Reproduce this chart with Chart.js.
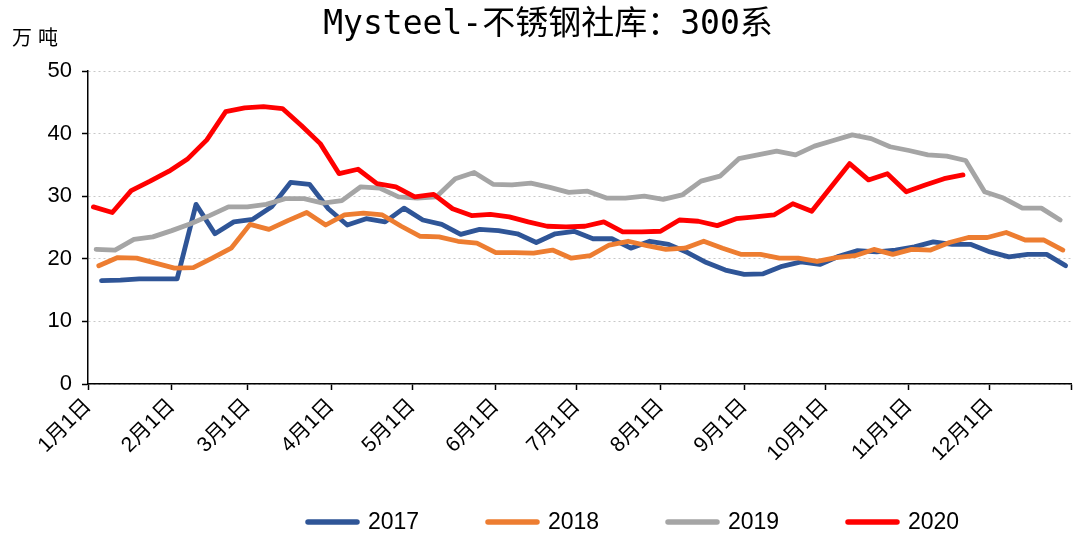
<!DOCTYPE html>
<html>
<head>
<meta charset="utf-8">
<script src="https://cdn.jsdelivr.net/npm/chart.js@4/dist/chart.umd.min.js"></script>
<style>
  html, body { margin: 0; padding: 0; background: #fff; }
  #wrap { width: 1076px; height: 541px; }
</style>
</head>
<body>
<div id="wrap"><canvas id="c" width="1076" height="541"></canvas></div>
<script>
// Weekly social inventory of 300-series stainless steel (万吨), one reading per Friday
const chartTitle = 'Mysteel-不锈钢社库：300系';
const unitLabel = '万吨';
const seriesNames = ['2017', '2018', '2019', '2020'];
const seriesColors = ['#2F5597', '#ED7D31', '#A5A5A5', '#FF0000'];
// day of year (0 = 1月1日) of the first weekly reading of each year
const firstReadingDay = [5, 4, 3, 2];

const stock2017 = [16.5, 16.6, 16.8, 16.8, 16.8, 28.7, 24.0, 25.9, 26.3, 28.3,
                   32.2, 31.9, 28.0, 25.4, 26.4, 25.9, 28.1, 26.2, 25.5, 23.9,
                   24.7, 24.5, 24.0, 22.6, 24.0, 24.4, 23.2, 23.2, 21.7, 22.8,
                   22.3, 21.0, 19.4, 18.2, 17.5, 17.6, 18.8, 19.5, 19.1, 20.4,
                   21.3, 21.1, 21.4, 21.9, 22.7, 22.3, 22.3, 21.1, 20.3, 20.7,
                   20.7, 18.9];
const stock2018 = [18.9, 20.2, 20.1, 19.3, 18.5, 18.6, 20.1, 21.7, 25.5, 24.7,
                   26.1, 27.4, 25.4, 27.0, 27.3, 27.0, 25.2, 23.6, 23.5, 22.8,
                   22.5, 21.0, 21.0, 20.9, 21.4, 20.1, 20.5, 22.2, 22.8, 22.1,
                   21.5, 21.7, 22.8, 21.7, 20.7, 20.7, 20.1, 20.1, 19.6, 20.2,
                   20.5, 21.5, 20.7, 21.5, 21.4, 22.6, 23.4, 23.4, 24.2, 23.0,
                   23.0, 21.4];
const stock2019 = [21.5, 21.4, 23.1, 23.5, 24.5, 25.6, 26.9, 28.3, 28.3, 28.7,
                   29.6, 29.6, 28.9, 29.3, 31.5, 31.3, 29.9, 29.7, 29.9, 32.8,
                   33.8, 31.9, 31.8, 32.1, 31.4, 30.6, 30.8, 29.7, 29.7, 30.0,
                   29.5, 30.2, 32.4, 33.2, 36.0, 36.6, 37.2, 36.6, 38.0, 38.9,
                   39.8, 39.2, 37.9, 37.3, 36.6, 36.4, 35.7, 30.7, 29.7, 28.1,
                   28.1, 26.2];
const stock2020 = [28.3, 27.4, 30.9, 32.4, 34.0, 36.0, 39.0, 43.5, 44.1, 44.3,
                   44.0, 41.3, 38.4, 33.6, 34.3, 32.0, 31.5, 29.9, 30.3, 28.0,
                   26.9, 27.1, 26.7, 25.9, 25.2, 25.1, 25.2, 25.9, 24.3, 24.3,
                   24.4, 26.2, 26.0, 25.3, 26.4, 26.7, 27.0, 28.8, 27.6, 31.4,
                   35.2, 32.6, 33.6, 30.7, 31.8, 32.8, 33.4];

const monthStartDays = [0, 31, 59, 90, 120, 151, 181, 212, 243, 273, 304, 334, 364];
const monthLabels = ['1月1日', '2月1日', '3月1日', '4月1日', '5月1日', '6月1日',
                     '7月1日', '8月1日', '9月1日', '10月1日', '11月1日', '12月1日', ''];
const yMin = 0, yMax = 50, yStep = 10;

const allSeries = [stock2017, stock2018, stock2019, stock2020];

const datasets = allSeries.map((values, i) => ({
  label: seriesNames[i],
  data: values.map((v, k) => ({ x: firstReadingDay[i] + 7 * k, y: v })),
  borderColor: seriesColors[i],
  backgroundColor: seriesColors[i],
  borderWidth: 4.8,
  pointRadius: 0,
  pointHoverRadius: 0,
  tension: 0,
  fill: false,
  borderJoinStyle: 'round',
  borderCapStyle: 'round',
  order: allSeries.length - 1 - i   // later years drawn on top
}));

// Title, unit and the legend row along the bottom
const decorations = {
  id: 'decorations',
  afterDraw(chart) {
    const ctx = chart.ctx;
    ctx.save();
    ctx.fillStyle = '#000';
    ctx.textBaseline = 'middle';

    ctx.font = "33px 'DejaVu Sans Mono', 'Noto Sans CJK SC', sans-serif";
    ctx.textAlign = 'center';
    ctx.fillText(chartTitle, 548, 25);

    ctx.font = "20px 'Noto Sans CJK SC', sans-serif";
    ctx.textAlign = 'left';
    if ('letterSpacing' in ctx) ctx.letterSpacing = '6px';
    ctx.fillText(unitLabel, 12, 37);
    if ('letterSpacing' in ctx) ctx.letterSpacing = '0px';

    const legendY = 522;
    const firstX = 305, pitch = 180, swatch = 55;
    ctx.font = "23px 'Liberation Sans', Arial, sans-serif";
    chart.data.datasets.forEach((ds, i) => {
      const x0 = firstX + pitch * i;
      ctx.strokeStyle = ds.borderColor;
      ctx.lineWidth = 5.5;
      ctx.lineCap = 'round';
      ctx.beginPath();
      ctx.moveTo(x0 + 3, legendY);
      ctx.lineTo(x0 + swatch - 3, legendY);
      ctx.stroke();
      ctx.fillStyle = '#000';
      ctx.fillText(ds.label, x0 + swatch + 8, legendY + 1);
    });
    ctx.restore();
  }
};

new Chart(document.getElementById('c'), {
  type: 'line',
  data: { datasets },
  options: {
    responsive: false,
    animation: false,
    devicePixelRatio: 1,
    events: [],
    layout: { padding: { top: 71, right: 5, bottom: 45, left: 0 } },
    plugins: {
      legend: { display: false },
      title: { display: false },
      tooltip: { enabled: false }
    },
    scales: {
      x: {
        type: 'linear',
        min: monthStartDays[0],
        max: monthStartDays[monthStartDays.length - 1],
        afterBuildTicks(scale) {
          scale.ticks = monthStartDays.map(v => ({ value: v }));
        },
        afterFit(scale) {
          scale.height = 112;
          scale.paddingLeft = 0;
          scale.paddingRight = 0;
        },
        ticks: {
          autoSkip: false,
          minRotation: 45,
          maxRotation: 45,
          padding: 4,
          color: '#000',
          font: { size: 21, family: "'Liberation Sans', 'Noto Sans CJK SC', sans-serif" },
          callback(value) {
            const idx = monthStartDays.indexOf(value);
            return idx >= 0 ? monthLabels[idx] : '';
          }
        },
        grid: {
          drawOnChartArea: false,
          drawTicks: true,
          tickLength: 6,
          tickColor: '#000',
          tickWidth: 1.5
        },
        border: { display: true, color: '#000', width: 1.5 }
      },
      y: {
        min: yMin,
        max: yMax,
        afterFit(scale) { scale.width = 88; },
        ticks: {
          stepSize: yStep,
          padding: 10,
          color: '#000',
          font: { size: 22, family: "'Liberation Sans', Arial, sans-serif" }
        },
        grid: {
          color: '#C8C8C8',
          lineWidth: 1,
          drawTicks: true,
          tickLength: 6,
          tickColor: '#000',
          tickWidth: 1.5
        },
        border: { display: true, color: '#000', width: 1.5, dash: [2, 3] }
      }
    }
  },
  plugins: [decorations]
});
</script>
</body>
</html>
